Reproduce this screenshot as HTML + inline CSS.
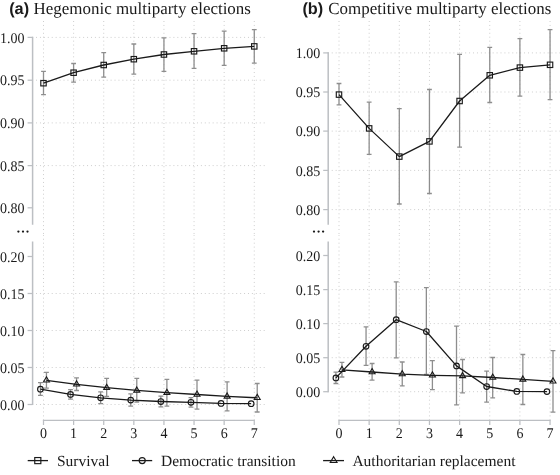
<!DOCTYPE html>
<html><head><meta charset="utf-8"><title>Figure</title>
<style>html,body{margin:0;padding:0;background:#fff}svg{display:block;will-change:transform}</style></head>
<body>
<svg width="560" height="475" viewBox="0 0 560 475">
<style>
.g{stroke:#cecece;stroke-width:1;stroke-dasharray:1 2.925;fill:none}
.ax{stroke:#bcbfc3;stroke-width:1.25;fill:none}
.ay{stroke:#bcbfc3;stroke-width:1.5;fill:none}
.eb{stroke:#8e8e8e;stroke-width:1.3;fill:none}
.ln{stroke:#1a1a1a;stroke-width:1.3;fill:none;stroke-linejoin:round}
.mk{stroke:#1a1a1a;stroke-width:1.15;fill:none}
.mt{stroke:#1a1a1a;stroke-width:1.1;fill:none}
text{font-family:"Liberation Serif",serif;fill:#1a1a1a;text-rendering:geometricPrecision}
.tk{font-size:14px}
.tt{font-size:16.95px}
.lg{font-size:15.5px}
.b{font-family:"Liberation Sans",sans-serif;font-weight:bold;font-size:16.3px}
.dots{font-size:15px;font-weight:bold}
</style>
<rect width="560" height="475" fill="#fff"/>
<line x1="43.50" y1="21.0" x2="43.50" y2="234.0" class="g"/>
<line x1="43.50" y1="420.3" x2="43.50" y2="235.0" class="g"/>
<line x1="73.61" y1="21.0" x2="73.61" y2="234.0" class="g"/>
<line x1="73.61" y1="420.3" x2="73.61" y2="235.0" class="g"/>
<line x1="103.72" y1="21.0" x2="103.72" y2="234.0" class="g"/>
<line x1="103.72" y1="420.3" x2="103.72" y2="235.0" class="g"/>
<line x1="133.83" y1="21.0" x2="133.83" y2="234.0" class="g"/>
<line x1="133.83" y1="420.3" x2="133.83" y2="235.0" class="g"/>
<line x1="163.94" y1="21.0" x2="163.94" y2="234.0" class="g"/>
<line x1="163.94" y1="420.3" x2="163.94" y2="235.0" class="g"/>
<line x1="194.05" y1="21.0" x2="194.05" y2="234.0" class="g"/>
<line x1="194.05" y1="420.3" x2="194.05" y2="235.0" class="g"/>
<line x1="224.16" y1="21.0" x2="224.16" y2="234.0" class="g"/>
<line x1="224.16" y1="420.3" x2="224.16" y2="235.0" class="g"/>
<line x1="254.27" y1="21.0" x2="254.27" y2="234.0" class="g"/>
<line x1="254.27" y1="420.3" x2="254.27" y2="235.0" class="g"/>
<line x1="32.1" y1="37.4" x2="265" y2="37.4" class="g"/>
<line x1="32.1" y1="80.2" x2="265" y2="80.2" class="g"/>
<line x1="32.1" y1="122.9" x2="265" y2="122.9" class="g"/>
<line x1="32.1" y1="165.6" x2="265" y2="165.6" class="g"/>
<line x1="32.1" y1="293.5" x2="265" y2="293.5" class="g"/>
<line x1="32.1" y1="330.5" x2="265" y2="330.5" class="g"/>
<line x1="32.1" y1="367.5" x2="265" y2="367.5" class="g"/>
<line x1="32.1" y1="404.5" x2="265" y2="404.5" class="g"/>
<path d="M32.6 36.78V224.7M32.6 241.4V405.12" class="ay"/>
<line x1="27.6" y1="37.4" x2="32.6" y2="37.4" class="ax"/>
<text transform="translate(24.6 42.6) scale(1 1.055)" text-anchor="end" class="tk">1.00</text>
<line x1="27.6" y1="80.2" x2="32.6" y2="80.2" class="ax"/>
<text transform="translate(24.6 85.4) scale(1 1.055)" text-anchor="end" class="tk">0.95</text>
<line x1="27.6" y1="122.9" x2="32.6" y2="122.9" class="ax"/>
<text transform="translate(24.6 128.1) scale(1 1.055)" text-anchor="end" class="tk">0.90</text>
<line x1="27.6" y1="165.6" x2="32.6" y2="165.6" class="ax"/>
<text transform="translate(24.6 170.8) scale(1 1.055)" text-anchor="end" class="tk">0.85</text>
<line x1="27.6" y1="207.8" x2="32.6" y2="207.8" class="ax"/>
<text transform="translate(24.6 213.0) scale(1 1.055)" text-anchor="end" class="tk">0.80</text>
<line x1="27.6" y1="256.5" x2="32.6" y2="256.5" class="ax"/>
<text transform="translate(24.6 261.7) scale(1 1.055)" text-anchor="end" class="tk">0.20</text>
<line x1="27.6" y1="293.5" x2="32.6" y2="293.5" class="ax"/>
<text transform="translate(24.6 298.7) scale(1 1.055)" text-anchor="end" class="tk">0.15</text>
<line x1="27.6" y1="330.5" x2="32.6" y2="330.5" class="ax"/>
<text transform="translate(24.6 335.7) scale(1 1.055)" text-anchor="end" class="tk">0.10</text>
<line x1="27.6" y1="367.5" x2="32.6" y2="367.5" class="ax"/>
<text transform="translate(24.6 372.7) scale(1 1.055)" text-anchor="end" class="tk">0.05</text>
<line x1="27.6" y1="404.5" x2="32.6" y2="404.5" class="ax"/>
<text transform="translate(24.6 409.7) scale(1 1.055)" text-anchor="end" class="tk">0.00</text>
<line x1="42.88" y1="420.4" x2="254.89" y2="420.4" class="ax"/>
<line x1="43.50" y1="420.4" x2="43.50" y2="425" class="ax"/>
<text transform="translate(43.50 438.3) scale(1 1.055)" text-anchor="middle" class="tk">0</text>
<line x1="73.61" y1="420.4" x2="73.61" y2="425" class="ax"/>
<text transform="translate(73.61 438.3) scale(1 1.055)" text-anchor="middle" class="tk">1</text>
<line x1="103.72" y1="420.4" x2="103.72" y2="425" class="ax"/>
<text transform="translate(103.72 438.3) scale(1 1.055)" text-anchor="middle" class="tk">2</text>
<line x1="133.83" y1="420.4" x2="133.83" y2="425" class="ax"/>
<text transform="translate(133.83 438.3) scale(1 1.055)" text-anchor="middle" class="tk">3</text>
<line x1="163.94" y1="420.4" x2="163.94" y2="425" class="ax"/>
<text transform="translate(163.94 438.3) scale(1 1.055)" text-anchor="middle" class="tk">4</text>
<line x1="194.05" y1="420.4" x2="194.05" y2="425" class="ax"/>
<text transform="translate(194.05 438.3) scale(1 1.055)" text-anchor="middle" class="tk">5</text>
<line x1="224.16" y1="420.4" x2="224.16" y2="425" class="ax"/>
<text transform="translate(224.16 438.3) scale(1 1.055)" text-anchor="middle" class="tk">6</text>
<line x1="254.27" y1="420.4" x2="254.27" y2="425" class="ax"/>
<text transform="translate(254.27 438.3) scale(1 1.055)" text-anchor="middle" class="tk">7</text>
<circle cx="18.4" cy="231.6" r="1.15" fill="#1a1a1a"/>
<circle cx="23.0" cy="231.6" r="1.15" fill="#1a1a1a"/>
<circle cx="27.5" cy="231.6" r="1.15" fill="#1a1a1a"/>
<path d="M43.50 71.4V94.6M41.10 71.4h4.8M41.10 94.6h4.8" class="eb"/>
<path d="M73.61 63.5V82.1M71.21 63.5h4.8M71.21 82.1h4.8" class="eb"/>
<path d="M103.72 52.6V77.2M101.32 52.6h4.8M101.32 77.2h4.8" class="eb"/>
<path d="M133.83 44.0V74.2M131.43 44.0h4.8M131.43 74.2h4.8" class="eb"/>
<path d="M163.94 37.8V71.4M161.54 37.8h4.8M161.54 71.4h4.8" class="eb"/>
<path d="M194.05 33.7V68.4M191.65 33.7h4.8M191.65 68.4h4.8" class="eb"/>
<path d="M224.16 31.1V65.4M221.76 31.1h4.8M221.76 65.4h4.8" class="eb"/>
<path d="M254.27 29.6V63.1M251.87 29.6h4.8M251.87 63.1h4.8" class="eb"/>
<path d="M40.40 382.6V395.4M38.00 382.6h4.8M38.00 395.4h4.8" class="eb"/>
<path d="M70.51 389.6V399.1M68.11 389.6h4.8M68.11 399.1h4.8" class="eb"/>
<path d="M100.62 391.8V403.6M98.22 391.8h4.8M98.22 403.6h4.8" class="eb"/>
<path d="M130.73 393.9V406.1M128.33 393.9h4.8M128.33 406.1h4.8" class="eb"/>
<path d="M160.84 396.1V406.8M158.44 396.1h4.8M158.44 406.8h4.8" class="eb"/>
<path d="M190.95 397.7V407.2M188.55 397.7h4.8M188.55 407.2h4.8" class="eb"/>
<path d="M46.45 372.4V388.2M44.05 372.4h4.8M44.05 388.2h4.8" class="eb"/>
<path d="M76.56 377.8V390.5M74.16 377.8h4.8M74.16 390.5h4.8" class="eb"/>
<path d="M106.67 378.4V396.4M104.27 378.4h4.8M104.27 396.4h4.8" class="eb"/>
<path d="M136.78 378.4V402.0M134.38 378.4h4.8M134.38 402.0h4.8" class="eb"/>
<path d="M166.89 379.3V406.2M164.49 379.3h4.8M164.49 406.2h4.8" class="eb"/>
<path d="M197.00 380.1V409.1M194.60 380.1h4.8M194.60 409.1h4.8" class="eb"/>
<path d="M227.11 381.9V410.9M224.71 381.9h4.8M224.71 410.9h4.8" class="eb"/>
<path d="M257.22 383.5V412.0M254.82 383.5h4.8M254.82 412.0h4.8" class="eb"/>
<polyline class="ln" points="43.50,83.2 73.61,72.7 103.72,65.0 133.83,59.2 163.94,54.5 194.05,51.3 224.16,48.3 254.27,46.4"/>
<polyline class="ln" points="40.40,389.2 70.51,394.4 100.62,397.8 130.73,400.1 160.84,401.5 190.95,402.3 221.06,403.4 251.17,403.7"/>
<polyline class="ln" points="46.45,380.3 76.56,384.3 106.67,387.7 136.78,390.4 166.89,392.7 197.00,394.5 227.11,396.4 257.22,397.8"/>
<rect x="40.80" y="80.50" width="5.40" height="5.40" class="mk"/>
<rect x="70.91" y="70.00" width="5.40" height="5.40" class="mk"/>
<rect x="101.02" y="62.30" width="5.40" height="5.40" class="mk"/>
<rect x="131.13" y="56.50" width="5.40" height="5.40" class="mk"/>
<rect x="161.24" y="51.80" width="5.40" height="5.40" class="mk"/>
<rect x="191.35" y="48.60" width="5.40" height="5.40" class="mk"/>
<rect x="221.46" y="45.60" width="5.40" height="5.40" class="mk"/>
<rect x="251.57" y="43.70" width="5.40" height="5.40" class="mk"/>
<circle cx="40.40" cy="389.20" r="2.80" class="mk"/>
<circle cx="70.51" cy="394.40" r="2.80" class="mk"/>
<circle cx="100.62" cy="397.80" r="2.80" class="mk"/>
<circle cx="130.73" cy="400.10" r="2.80" class="mk"/>
<circle cx="160.84" cy="401.50" r="2.80" class="mk"/>
<circle cx="190.95" cy="402.30" r="2.80" class="mk"/>
<circle cx="221.06" cy="403.40" r="2.80" class="mk"/>
<circle cx="251.17" cy="403.70" r="2.80" class="mk"/>
<path d="M46.45 376.85L49.43 382.02H43.47Z" class="mt"/>
<path d="M76.56 380.85L79.54 386.02H73.58Z" class="mt"/>
<path d="M106.67 384.25L109.65 389.42H103.69Z" class="mt"/>
<path d="M136.78 386.95L139.76 392.12H133.80Z" class="mt"/>
<path d="M166.89 389.25L169.87 394.42H163.91Z" class="mt"/>
<path d="M197.00 391.05L199.98 396.22H194.02Z" class="mt"/>
<path d="M227.11 392.95L230.09 398.12H224.13Z" class="mt"/>
<path d="M257.22 394.35L260.20 399.52H254.24Z" class="mt"/>
<line x1="339.00" y1="21.0" x2="339.00" y2="234.0" class="g"/>
<line x1="339.00" y1="420.3" x2="339.00" y2="235.0" class="g"/>
<line x1="369.15" y1="21.0" x2="369.15" y2="234.0" class="g"/>
<line x1="369.15" y1="420.3" x2="369.15" y2="235.0" class="g"/>
<line x1="399.30" y1="21.0" x2="399.30" y2="234.0" class="g"/>
<line x1="399.30" y1="420.3" x2="399.30" y2="235.0" class="g"/>
<line x1="429.45" y1="21.0" x2="429.45" y2="234.0" class="g"/>
<line x1="429.45" y1="420.3" x2="429.45" y2="235.0" class="g"/>
<line x1="459.60" y1="21.0" x2="459.60" y2="234.0" class="g"/>
<line x1="459.60" y1="420.3" x2="459.60" y2="235.0" class="g"/>
<line x1="489.75" y1="21.0" x2="489.75" y2="234.0" class="g"/>
<line x1="489.75" y1="420.3" x2="489.75" y2="235.0" class="g"/>
<line x1="519.90" y1="21.0" x2="519.90" y2="234.0" class="g"/>
<line x1="519.90" y1="420.3" x2="519.90" y2="235.0" class="g"/>
<line x1="550.05" y1="21.0" x2="550.05" y2="234.0" class="g"/>
<line x1="550.05" y1="420.3" x2="550.05" y2="235.0" class="g"/>
<line x1="327.8" y1="52.9" x2="560" y2="52.9" class="g"/>
<line x1="327.8" y1="92.0" x2="560" y2="92.0" class="g"/>
<line x1="327.8" y1="131.1" x2="560" y2="131.1" class="g"/>
<line x1="327.8" y1="170.4" x2="560" y2="170.4" class="g"/>
<line x1="327.8" y1="209.6" x2="560" y2="209.6" class="g"/>
<line x1="327.8" y1="289.6" x2="560" y2="289.6" class="g"/>
<line x1="327.8" y1="323.6" x2="560" y2="323.6" class="g"/>
<line x1="327.8" y1="357.7" x2="560" y2="357.7" class="g"/>
<line x1="327.8" y1="391.7" x2="560" y2="391.7" class="g"/>
<path d="M328.2 52.28V224.7M328.2 241.4V392.32" class="ay"/>
<line x1="323.2" y1="52.9" x2="328.2" y2="52.9" class="ax"/>
<text transform="translate(320.2 58.1) scale(1 1.055)" text-anchor="end" class="tk">1.00</text>
<line x1="323.2" y1="92.0" x2="328.2" y2="92.0" class="ax"/>
<text transform="translate(320.2 97.2) scale(1 1.055)" text-anchor="end" class="tk">0.95</text>
<line x1="323.2" y1="131.1" x2="328.2" y2="131.1" class="ax"/>
<text transform="translate(320.2 136.3) scale(1 1.055)" text-anchor="end" class="tk">0.90</text>
<line x1="323.2" y1="170.4" x2="328.2" y2="170.4" class="ax"/>
<text transform="translate(320.2 175.6) scale(1 1.055)" text-anchor="end" class="tk">0.85</text>
<line x1="323.2" y1="209.6" x2="328.2" y2="209.6" class="ax"/>
<text transform="translate(320.2 214.8) scale(1 1.055)" text-anchor="end" class="tk">0.80</text>
<line x1="323.2" y1="255.5" x2="328.2" y2="255.5" class="ax"/>
<text transform="translate(320.2 260.7) scale(1 1.055)" text-anchor="end" class="tk">0.20</text>
<line x1="323.2" y1="289.6" x2="328.2" y2="289.6" class="ax"/>
<text transform="translate(320.2 294.8) scale(1 1.055)" text-anchor="end" class="tk">0.15</text>
<line x1="323.2" y1="323.6" x2="328.2" y2="323.6" class="ax"/>
<text transform="translate(320.2 328.8) scale(1 1.055)" text-anchor="end" class="tk">0.10</text>
<line x1="323.2" y1="357.7" x2="328.2" y2="357.7" class="ax"/>
<text transform="translate(320.2 362.9) scale(1 1.055)" text-anchor="end" class="tk">0.05</text>
<line x1="323.2" y1="391.7" x2="328.2" y2="391.7" class="ax"/>
<text transform="translate(320.2 396.9) scale(1 1.055)" text-anchor="end" class="tk">0.00</text>
<line x1="338.38" y1="420.4" x2="550.67" y2="420.4" class="ax"/>
<line x1="339.00" y1="420.4" x2="339.00" y2="425" class="ax"/>
<text transform="translate(339.00 438.3) scale(1 1.055)" text-anchor="middle" class="tk">0</text>
<line x1="369.15" y1="420.4" x2="369.15" y2="425" class="ax"/>
<text transform="translate(369.15 438.3) scale(1 1.055)" text-anchor="middle" class="tk">1</text>
<line x1="399.30" y1="420.4" x2="399.30" y2="425" class="ax"/>
<text transform="translate(399.30 438.3) scale(1 1.055)" text-anchor="middle" class="tk">2</text>
<line x1="429.45" y1="420.4" x2="429.45" y2="425" class="ax"/>
<text transform="translate(429.45 438.3) scale(1 1.055)" text-anchor="middle" class="tk">3</text>
<line x1="459.60" y1="420.4" x2="459.60" y2="425" class="ax"/>
<text transform="translate(459.60 438.3) scale(1 1.055)" text-anchor="middle" class="tk">4</text>
<line x1="489.75" y1="420.4" x2="489.75" y2="425" class="ax"/>
<text transform="translate(489.75 438.3) scale(1 1.055)" text-anchor="middle" class="tk">5</text>
<line x1="519.90" y1="420.4" x2="519.90" y2="425" class="ax"/>
<text transform="translate(519.90 438.3) scale(1 1.055)" text-anchor="middle" class="tk">6</text>
<line x1="550.05" y1="420.4" x2="550.05" y2="425" class="ax"/>
<text transform="translate(550.05 438.3) scale(1 1.055)" text-anchor="middle" class="tk">7</text>
<circle cx="314.0" cy="231.6" r="1.15" fill="#1a1a1a"/>
<circle cx="318.6" cy="231.6" r="1.15" fill="#1a1a1a"/>
<circle cx="323.1" cy="231.6" r="1.15" fill="#1a1a1a"/>
<path d="M339.00 83.5V104.9M336.60 83.5h4.8M336.60 104.9h4.8" class="eb"/>
<path d="M369.15 102.1V154.3M366.75 102.1h4.8M366.75 154.3h4.8" class="eb"/>
<path d="M399.30 108.6V204.0M396.90 108.6h4.8M396.90 204.0h4.8" class="eb"/>
<path d="M429.45 89.5V193.5M427.05 89.5h4.8M427.05 193.5h4.8" class="eb"/>
<path d="M459.60 54.3V147.1M457.20 54.3h4.8M457.20 147.1h4.8" class="eb"/>
<path d="M489.75 47.4V102.5M487.35 47.4h4.8M487.35 102.5h4.8" class="eb"/>
<path d="M519.90 38.6V96.1M517.50 38.6h4.8M517.50 96.1h4.8" class="eb"/>
<path d="M550.05 29.6V99.7M547.65 29.6h4.8M547.65 99.7h4.8" class="eb"/>
<path d="M335.90 372.1V383.5M333.50 372.1h4.8M333.50 383.5h4.8" class="eb"/>
<path d="M366.05 326.8V365.4M363.65 326.8h4.8M363.65 365.4h4.8" class="eb"/>
<path d="M396.20 281.8V357.9M393.80 281.8h4.8M393.80 357.9h4.8" class="eb"/>
<path d="M426.35 287.6V374.5M423.95 287.6h4.8M423.95 374.5h4.8" class="eb"/>
<path d="M456.50 326.1V404.9M454.10 326.1h4.8M454.10 404.9h4.8" class="eb"/>
<path d="M486.65 371.1V402.1M484.25 371.1h4.8M484.25 402.1h4.8" class="eb"/>
<path d="M341.95 362.3V377.0M339.55 362.3h4.8M339.55 377.0h4.8" class="eb"/>
<path d="M372.10 363.5V380.2M369.70 363.5h4.8M369.70 380.2h4.8" class="eb"/>
<path d="M402.25 362.0V385.8M399.85 362.0h4.8M399.85 385.8h4.8" class="eb"/>
<path d="M432.40 360.7V389.6M430.00 360.7h4.8M430.00 389.6h4.8" class="eb"/>
<path d="M462.55 359.5V392.8M460.15 359.5h4.8M460.15 392.8h4.8" class="eb"/>
<path d="M492.70 357.5V397.8M490.30 357.5h4.8M490.30 397.8h4.8" class="eb"/>
<path d="M522.85 354.5V404.5M520.45 354.5h4.8M520.45 404.5h4.8" class="eb"/>
<path d="M553.00 350.7V412.1M550.60 350.7h4.8M550.60 412.1h4.8" class="eb"/>
<polyline class="ln" points="339.00,94.6 369.15,128.4 399.30,156.6 429.45,141.4 459.60,101.0 489.75,75.3 519.90,67.6 550.05,64.8"/>
<polyline class="ln" points="335.90,377.9 366.05,346.3 396.20,319.7 426.35,331.5 456.50,365.9 486.65,386.5 516.80,391.4 546.95,391.6"/>
<polyline class="ln" points="341.95,369.8 372.10,372.0 402.25,374.1 432.40,375.3 462.55,375.9 492.70,377.5 522.85,379.4 553.00,381.3"/>
<rect x="336.30" y="91.90" width="5.40" height="5.40" class="mk"/>
<rect x="366.45" y="125.70" width="5.40" height="5.40" class="mk"/>
<rect x="396.60" y="153.90" width="5.40" height="5.40" class="mk"/>
<rect x="426.75" y="138.70" width="5.40" height="5.40" class="mk"/>
<rect x="456.90" y="98.30" width="5.40" height="5.40" class="mk"/>
<rect x="487.05" y="72.60" width="5.40" height="5.40" class="mk"/>
<rect x="517.20" y="64.90" width="5.40" height="5.40" class="mk"/>
<rect x="547.35" y="62.10" width="5.40" height="5.40" class="mk"/>
<circle cx="335.90" cy="377.90" r="2.80" class="mk"/>
<circle cx="366.05" cy="346.30" r="2.80" class="mk"/>
<circle cx="396.20" cy="319.70" r="2.80" class="mk"/>
<circle cx="426.35" cy="331.50" r="2.80" class="mk"/>
<circle cx="456.50" cy="365.90" r="2.80" class="mk"/>
<circle cx="486.65" cy="386.50" r="2.80" class="mk"/>
<circle cx="516.80" cy="391.40" r="2.80" class="mk"/>
<circle cx="546.95" cy="391.60" r="2.80" class="mk"/>
<path d="M341.95 366.35L344.93 371.52H338.97Z" class="mt"/>
<path d="M372.10 368.55L375.08 373.72H369.12Z" class="mt"/>
<path d="M402.25 370.65L405.23 375.82H399.27Z" class="mt"/>
<path d="M432.40 371.85L435.38 377.02H429.42Z" class="mt"/>
<path d="M462.55 372.45L465.53 377.62H459.57Z" class="mt"/>
<path d="M492.70 374.05L495.68 379.22H489.72Z" class="mt"/>
<path d="M522.85 375.95L525.83 381.12H519.87Z" class="mt"/>
<path d="M553.00 377.85L555.98 383.02H550.02Z" class="mt"/>
<text x="9.2" y="14" class="b">(a)</text><text x="33.6" y="14" class="tt">Hegemonic multiparty elections</text>
<text x="302.4" y="14" class="b">(b)</text><text x="328.3" y="14" class="tt">Competitive multiparty elections</text>
<line x1="27.7" y1="460.6" x2="48" y2="460.6" class="ln"/>
<rect x="34.75" y="457.55" width="6.10" height="6.10" class="mk"/>
<text x="57" y="466.2" class="lg">Survival</text>
<line x1="132" y1="460.6" x2="152.2" y2="460.6" class="ln"/>
<circle cx="142.20" cy="460.60" r="3.05" class="mk"/>
<text x="161" y="466.2" class="lg">Democratic transition</text>
<line x1="323.1" y1="460.6" x2="344" y2="460.6" class="ln"/>
<path d="M333.65 456.67L337.05 462.56H330.25Z" class="mt"/>
<text x="352.4" y="466.2" class="lg">Authoritarian replacement</text>
</svg>
</body></html>
